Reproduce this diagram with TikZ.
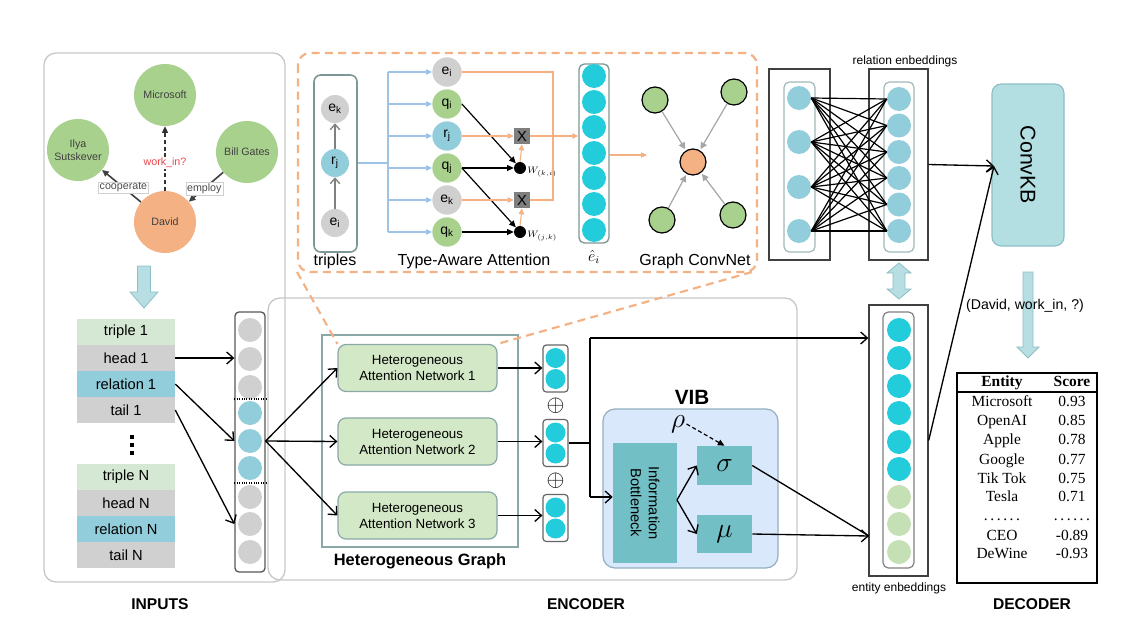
\documentclass[tikz,border=0pt]{standalone}
\usepackage{fontspec}
\setmainfont{Liberation Sans}
\newfontfamily\timesf{Liberation Serif}
\usetikzlibrary{arrows.meta,calc}
\definecolor{cgray}{HTML}{D0D0D0}
\definecolor{cteal}{HTML}{92CDDC}
\definecolor{ccyan}{HTML}{22CCDA}
\definecolor{cgreen}{HTML}{A9D18E}
\definecolor{clgreen}{HTML}{C5E0B4}
\definecolor{ctrip}{HTML}{D5E8D4}
\definecolor{corange}{HTML}{F4B183}
\definecolor{cpanel}{HTML}{C8C8C8}
\definecolor{chan}{HTML}{D3E8C6}
\definecolor{cborder}{HTML}{8AA8A8}
\definecolor{cvib}{HTML}{DAE8FC}
\definecolor{cvibb}{HTML}{93AEBE}
\definecolor{cib}{HTML}{72BFC5}
\definecolor{cconv}{HTML}{B4DFE2}
\definecolor{cblock}{HTML}{B7DEE3}
\definecolor{cblockb}{HTML}{8CBFC6}
\definecolor{cblue}{HTML}{9DC3E6}
\definecolor{cred}{HTML}{E8474B}
\definecolor{cxbox}{HTML}{7F7F7F}
\newcommand{\fs}[2]{\fontsize{#1}{#2}\selectfont}
\begin{document}
\begin{tikzpicture}[x=0.75pt,y=-0.75pt,
  arr/.style={line width=1pt,-{Straight Barb[length=5pt,width=9pt]}},
  tarr/.style={-{Triangle[length=5pt,width=4.5pt]}},
  bcirc/.style={circle,inner sep=0pt,minimum size=18pt,draw=none},
  scirc/.style={circle,inner sep=0pt,minimum size=15pt,draw=none,fill=ccyan},
  acirc/.style={circle,inner sep=0pt,minimum size=22pt,draw=none,font=\fs{10.5}{12}},
  gnode/.style={circle,inner sep=0pt,minimum size=46.5pt,text=black!75,align=center,font=\fs{8}{9.5}},
  glabel/.style={fill=white,draw=cgray,line width=0.3pt,inner sep=1pt,font=\fs{8}{9},text=black!70},
  rowbox/.style={rectangle,inner sep=0pt,minimum width=73.5pt,minimum height=19.5pt,font=\fs{11}{13}},
  hanbox/.style={rectangle,rounded corners=6pt,draw=cborder,fill=chan,line width=0.9pt,minimum width=119.25pt,minimum height=35.25pt,align=center,font=\fs{10}{12}},
  svec/.style={rectangle,rounded corners=2.5pt,draw=black!60,fill=white,line width=0.9pt,minimum width=18.75pt,minimum height=35.25pt,inner sep=0pt},
  tealbox/.style={rectangle,fill=cib,inner sep=0pt},
  gcn/.style={circle,draw=black,line width=0.9pt,inner sep=0pt,minimum size=19.5pt},
  bold/.style={font=\fs{11.7}{13}\bfseries},
  tcell/.style={font=\timesf\fs{11.6}{13},inner sep=0pt,text height=8pt,text depth=2.5pt},
  oline/.style={corange,line width=0.8pt},
  oarr/.style={corange,line width=0.8pt,-{Triangle[length=4.5pt,width=4pt]}},
  blarr/.style={cblue,line width=0.8pt,-{Triangle[length=4.5pt,width=4pt]}},
]
\useasboundingbox (0,0) rectangle (1140,632);
\fill[white] (0,0) rectangle (1140,632);

% ---------- panels ----------
\draw[cpanel,line width=1pt,rounded corners=9pt] (44,53) rectangle (285,582);
\draw[cpanel,line width=1pt,rounded corners=9pt] (268,298) rectangle (797,580);

% ---------- input graph ----------
\node[gnode,fill=cgreen] (ms) at (165,95) {Microsoft};
\node[gnode,fill=cgreen] (ilya) at (78,150) {Ilya\\Sutskever};
\node[gnode,fill=cgreen] (bill) at (247,152) {Bill Gates};
\node[gnode,fill=corange] (david) at (165,222) {David};
\draw[densely dashed,line width=1pt,tarr,black!80] (david) -- (ms);
\node[glabel,text=cred,draw=none] at (165,163) {work\_in?};
\draw[line width=1.2pt,tarr,black!75] (david) -- (ilya) node[glabel,pos=0.45] {cooperate};
\draw[line width=1.2pt,tarr,black!75] (bill) -- (david) node[glabel,pos=0.55] {employ};

% block arrow down
\draw[cblockb,fill=cblock,line width=0.6pt] (137.5,266) -- (150.5,266) -- (150.5,292) -- (158,292) -- (144,308) -- (130,292) -- (137.5,292) -- cycle;

% ---------- input rows ----------
\node[rowbox,fill=ctrip] (t1) at (126,332) {triple 1};
\node[rowbox,fill=cgray] (h1) at (126,358) {head 1};
\node[rowbox,fill=cteal] (r1) at (126,384) {relation 1};
\node[rowbox,fill=cgray] (l1) at (126,410) {tail 1};
\node[rowbox,fill=ctrip] (tN) at (126,477) {triple N};
\node[rowbox,fill=cgray] (hN) at (126,503) {head N};
\node[rowbox,fill=cteal] (rN) at (126,529) {relation N};
\node[rowbox,fill=cgray] (lN) at (126,555) {tail N};
\foreach \y in {437,445,453} \fill (129.5,\y-2) rectangle (133.5,\y+2);

% ---------- input column ----------
\node[draw=black!65,fill=white,rounded corners=3pt,line width=1pt,minimum width=22.5pt,minimum height=195pt,inner sep=0pt] (col) at (250,442) {};
\foreach \y/\c [count=\i] in {330/cgray,359/cgray,387/cgray,413/cteal,441/cteal,468/cteal,497/cgray,524/cgray,552/cgray}
  \node[bcirc,fill=\c] (ic\i) at (250,\y) {};
\draw[densely dotted,line width=0.8pt] (col.west |- 0,399) -- (col.east |- 0,399);
\draw[densely dotted,line width=0.8pt] (col.west |- 0,483) -- (col.east |- 0,483);
\draw[arr] (h1.east) -- (col.west |- h1.east);
\draw[arr] (r1.east) -- (col.west |- ic5);
\draw[arr] (l1.east) -- (col.west |- ic8);

% ---------- heterogeneous graph ----------
\node[draw=cborder,line width=1.2pt,minimum width=147pt,minimum height=159pt,inner sep=0pt] (hg) at (420,441) {};
\node[font=\fs{12.3}{14}\bfseries] (hgl) at (420,561) {Heterogeneous Graph};
\node[hanbox] (han1) at (417.5,368) {Heterogeneous\\Attention Network 1};
\node[hanbox] (han2) at (417.5,441.5) {Heterogeneous\\Attention Network 2};
\node[hanbox] (han3) at (417.5,515.5) {Heterogeneous\\Attention Network 3};
\draw[arr] (col.east |- ic5) -- (han1.west);
\draw[arr] (col.east |- ic5) -- (han2.west);
\draw[arr] (col.east |- ic5) -- (han3.west);

\foreach \y/\n in {368.5/1,443/2,518/3}{
  \node[svec] (v\n) at (555.5,\y) {};
  \node[scirc] (v\n a) at (555.5,\y-10.5) {};
  \node[scirc] (v\n b) at (555.5,\y+10.5) {};
}
\node[font=\fs{19}{20},inner sep=0pt] (op1) at (555.5,406) {$\oplus$};
\node[font=\fs{19}{20},inner sep=0pt] (op2) at (555.5,481) {$\oplus$};
\draw[arr] (han1.east) -- (v1.west |- han1.east);
\draw[arr] (han2.east) -- (v2.west |- han2.east);
\draw[arr] (han3.east) -- (v3.west |- han3.east);

% ---------- VIB ----------
\node[font=\fs{15.5}{17}\bfseries] (vibl) at (692,397) {VIB};
\node[rectangle,rounded corners=9pt,draw=cvibb,fill=cvib,line width=0.9pt,minimum width=131.25pt,minimum height=119.25pt,inner sep=0pt] (vib) at (690.5,488.5) {};
\node[tealbox,minimum width=48pt,minimum height=90pt] (ib) at (645,503) {};
\node[rotate=-90,align=center,font=\fs{11}{13.5}] at (ib) {Information\\Bottleneck};
\node[tealbox,minimum width=41.25pt,minimum height=29.25pt,font=\fs{22}{23}] (sig) at (724.5,465.5) {$\sigma$};
\node[tealbox,minimum width=41.25pt,minimum height=28.5pt,font=\fs{22}{23}] (mu) at (724.5,534) {$\mu$};
\node[font=\fs{22}{23},inner sep=1pt] (rho) at (678,424) {$\rho$};
\draw[densely dashed,line width=0.9pt,tarr] (rho.east) -- (sig.north);
\coordinate (ibo) at (677,500);
\draw[arr] (ibo) -- (sig.west);
\draw[arr] (ibo) -- (mu.west);

% encoder split lines
\coordinate (split) at (590,443);
\coordinate (up) at (590,338);
\coordinate (dn) at (590,497);
\draw[line width=1pt] (v2.east) -- (split);
\draw[line width=1pt] (up) -- (dn);
\draw[arr] (dn) -- (ib.west |- dn);

% ---------- entity embeddings ----------
\node[draw=black!75,line width=1pt,minimum width=44.25pt,minimum height=203.25pt,inner sep=0pt] (eout) at (898.5,440.5) {};
\node[draw=black!50,rounded corners=4pt,line width=0.9pt,minimum width=23.25pt,minimum height=192pt,inner sep=0pt] (ein) at (898.5,440) {};
\foreach \y/\c [count=\i] in {330/ccyan,358/ccyan,386/ccyan,413/ccyan,442/ccyan,469/ccyan,497/clgreen,524/clgreen,552/clgreen}
  \node[bcirc,fill=\c] (ec\i) at (899,\y) {};
\node[font=\fs{9}{10}] (entl) at (899,588) {entity enbeddings};
\draw[arr] (up) -- (eout.west |- up);
\coordinate (ein2) at (869,536);
\draw[line width=1pt] (sig.east) -- (ein2);
\draw[arr] (mu.east) -- (ein2);

% ---------- relation embeddings ----------
\node[draw=black!75,line width=1pt,minimum width=45.75pt,minimum height=143.25pt,inner sep=0pt] (rlout) at (799.5,164.5) {};
\node[draw=cborder!80,rounded corners=4pt,line width=0.9pt,minimum width=23.25pt,minimum height=127.5pt,inner sep=0pt] (rlin) at (799.5,167) {};
\node[draw=black!75,line width=1pt,minimum width=44.25pt,minimum height=143.25pt,inner sep=0pt] (rrout) at (898.5,164.5) {};
\node[draw=cborder!80,rounded corners=4pt,line width=0.9pt,minimum width=22.5pt,minimum height=127.5pt,inner sep=0pt] (rrin) at (899,167) {};
\foreach \y [count=\i] in {98,142,187,231}
  \node[bcirc,fill=cteal] (la\i) at (799,\y) {};
\foreach \y [count=\i] in {99,125.5,152,178,204.5,231}
  \node[bcirc,fill=cteal] (ra\i) at (899,\y) {};
\foreach \i in {1,...,4}
  \foreach \j in {1,...,6}
    \draw[line width=0.9pt] (la\i.east) -- (ra\j.west);
\node[font=\fs{9}{10}] (rell) at (905,61) {relation enbeddings};
\draw[cblockb,fill=cblock,line width=0.6pt] (899,263) -- (911,273) -- (905,273) -- (905,289) -- (911,289) -- (899,299) -- (887,289) -- (893,289) -- (893,273) -- (887,273) -- cycle;

% ---------- decoder ----------
\node[rectangle,rounded corners=7pt,draw=cblockb,fill=cconv,line width=0.9pt,minimum width=54pt,minimum height=121.5pt,inner sep=0pt] (conv) at (1028,165) {};
\node[rotate=-90,font=\fs{16}{18}] at (conv) {ConvKB};
\coordinate (cin) at (994,166);
\draw[arr] (rrout.east) -- (cin);
\draw[arr] (eout.east) -- (cin);
\draw[cblockb,fill=cblock,line width=0.6pt] (1023,272) -- (1033,272) -- (1033,347) -- (1039,347) -- (1028,358) -- (1017,347) -- (1023,347) -- cycle;
\node[font=\fs{10.6}{12}] (query) at (1025,306) {(David, work\_in, ?)};

\node[draw=black,line width=1.1pt,minimum width=105pt,minimum height=157.5pt,inner sep=0pt] (tab) at (1027,478) {};
\draw[line width=0.8pt] (tab.west |- 0,392) -- (tab.east |- 0,392);
\node[tcell,font=\timesf\fs{11.6}{13}\bfseries] (th1) at (1002,383) {Entity};
\node[tcell,font=\timesf\fs{11.6}{13}\bfseries] (th2) at (1072,383) {Score};
\foreach \e/\s/\y [count=\i] in {Microsoft/0.93/403,OpenAI/0.85/422,Apple/0.78/441,Google/0.77/461,Tik Tok/0.75/480,Tesla/0.71/498,{.\,.\,.\,.\,.\,.}/{.\,.\,.\,.\,.\,.}/517,CEO/-0.89/537,DeWine/-0.93/555}{
  \node[tcell] (te\i) at (1002,\y) {\e};
  \node[tcell] (ts\i) at (1072,\y) {\s};
}

% ---------- bottom labels ----------
\node[bold] (lin) at (160,604) {INPUTS};
\node[bold] (lenc) at (586,604) {ENCODER};
\node[bold] (ldec) at (1032,604) {DECODER};

% ---------- zoom box (top) ----------
\draw[corange,line width=1.6pt,dash pattern=on 6pt off 4pt,rounded corners=9pt] (298,53) rectangle (757,272);
\draw[corange,line width=1.6pt,dash pattern=on 6pt off 4pt] (297,272) -- (han1.north west);
\draw[corange,line width=1.6pt,dash pattern=on 6pt off 4pt] (752,272) -- (han1.north east);

% triples
\node[draw=cborder!90!black,rounded corners=5pt,line width=1.2pt,minimum width=32.25pt,minimum height=132.75pt,inner sep=0pt] (trip) at (335.5,163.5) {};
\node[acirc,minimum size=21pt,fill=cgray] (tek) at (335,109) {e\textsubscript{k}};
\node[acirc,minimum size=21pt,fill=cteal] (trj) at (335,163) {r\textsubscript{j}};
\node[acirc,minimum size=21pt,fill=cgray] (tei) at (335,223) {e\textsubscript{i}};
\draw[black!50,line width=1pt,-{Straight Barb[length=4pt,width=7pt]}] (tei) -- (trj);
\draw[black!50,line width=1pt,-{Straight Barb[length=4pt,width=7pt]}] (trj) -- (tek);

% type-aware attention
\node[acirc,fill=cgray] (a1) at (447,72) {e\textsubscript{i}};
\node[acirc,fill=cgreen] (a2) at (447,104) {q\textsubscript{i}};
\node[acirc,fill=cteal] (a3) at (447,136) {r\textsubscript{j}};
\node[acirc,fill=cgreen] (a4) at (447,168) {q\textsubscript{j}};
\node[acirc,fill=cgray] (a5) at (447,200) {e\textsubscript{k}};
\node[acirc,fill=cgreen] (a6) at (447,232) {q\textsubscript{k}};
\coordinate (bsplit) at (388,163);
\draw[cblue,line width=0.8pt] (trip.east |- trj) -- (bsplit);
\draw[cblue,line width=0.8pt] (388,72) -- (388,232);
\foreach \i in {1,...,6} \draw[blarr] (a\i.west -| bsplit) -- (a\i.west);

\node[circle,fill=black,inner sep=0pt,minimum size=9pt] (d1) at (520,168) {};
\node[circle,fill=black,inner sep=0pt,minimum size=9pt] (d2) at (520,232) {};
\node[anchor=west,inner sep=0pt,font=\fs{7}{8}] (w1) at (527,172) {$W_{(k,i)}$};
\node[anchor=west,inner sep=0pt,font=\fs{7}{8}] (w2) at (527,236) {$W_{(j,k)}$};
\node[fill=cxbox,minimum size=12pt,inner sep=0pt,font=\fs{11}{12}] (x1) at (522,136) {X};
\node[fill=cxbox,minimum size=12pt,inner sep=0pt,font=\fs{11}{12}] (x2) at (522,200) {X};

\draw[line width=0.9pt,tarr] (a2.east) -- (d1);
\draw[line width=0.9pt,tarr] (a4.east) -- (d1);
\draw[line width=0.9pt,tarr] (a4.east) -- (d2);
\draw[line width=0.9pt,tarr] (a6.east) -- (d2);
\draw[oarr] (a3.east) -- (x1.west);
\draw[oarr] (a5.east) -- (x2.west);
\draw[oarr] (d1.north) -- (x1.south);
\draw[oarr] (d2.north) -- (x2.south);
\coordinate (ocorner) at (553,72);
\draw[oline] (a1.east) -- (ocorner) -- (ocorner |- x2) -- (x2.east);

% e hat vector
\node[draw=cborder!90!black,rounded corners=4pt,line width=1pt,minimum width=22.5pt,minimum height=134.25pt,inner sep=0pt] (evec) at (594,153.5) {};
\foreach \y [count=\i] in {76,102,127,153,178,204,230}
  \node[bcirc,fill=ccyan] (eh\i) at (594,\y) {};
\draw[oarr] (x1.east) -- (evec.west |- x1);
\coordinate (gcin) at (647,155);
\draw[oarr] (evec.east |- gcin) -- (gcin);

% graph convnet
\node[gcn,fill=corange] (g0) at (693,162) {};
\node[gcn,fill=cgreen] (g1) at (655,100) {};
\node[gcn,fill=cgreen] (g2) at (734,92) {};
\node[gcn,fill=cgreen] (g3) at (662,220) {};
\node[gcn,fill=cgreen] (g4) at (733,215) {};
\foreach \i in {1,...,4}
  \draw[black!35,line width=0.9pt,-{Triangle[length=5pt,width=5pt]},shorten >=1pt] (g\i) -- (g0);

\node[font=\fs{12}{14}] (lt) at (335,261) {triples};
\node[font=\fs{12}{14}] (lta) at (474,261) {Type-Aware Attention};
\node[font=\fs{12}{14}] (le) at (594,257) {$\hat{e}_i$};
\node[font=\fs{12}{14}] (lg) at (695,261) {Graph ConvNet};
\end{tikzpicture}
\end{document}
